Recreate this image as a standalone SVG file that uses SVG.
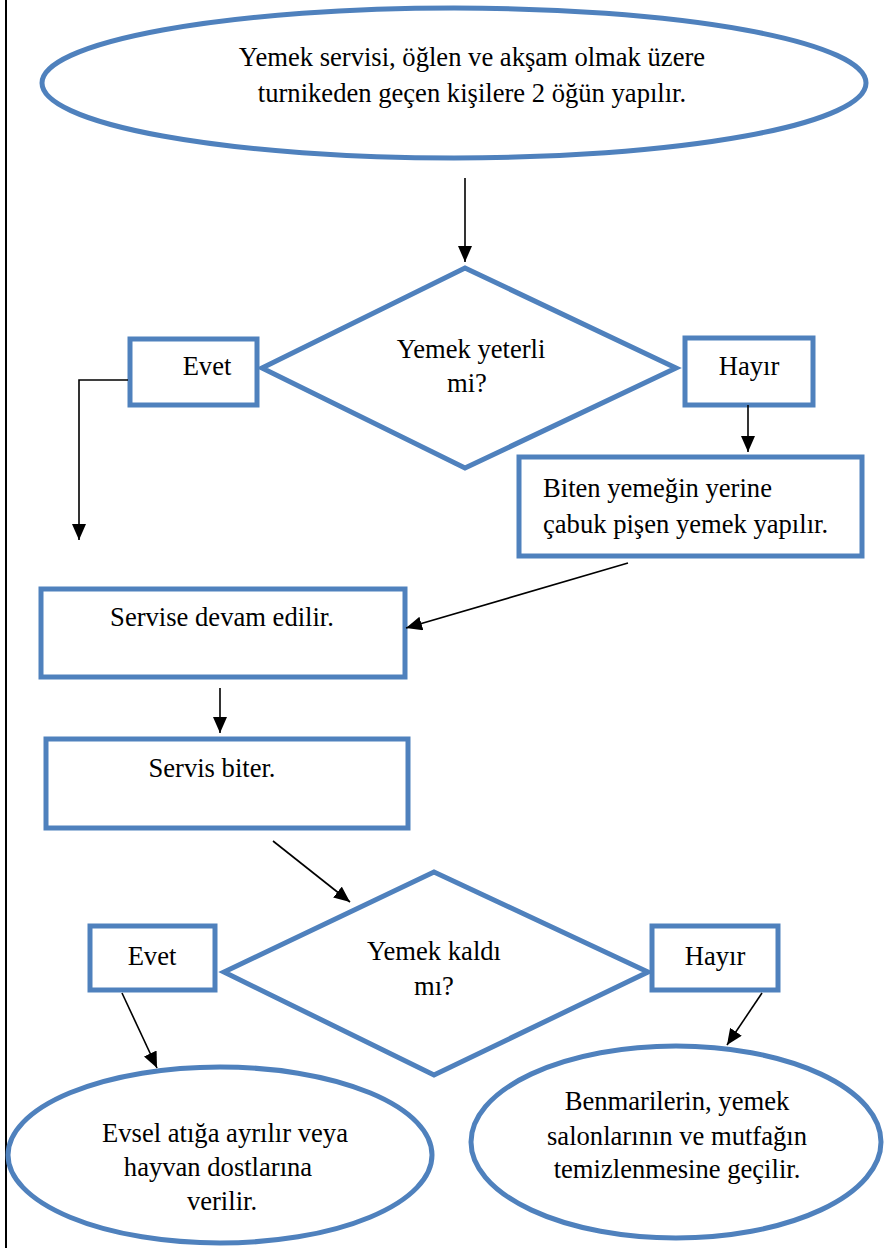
<svg xmlns="http://www.w3.org/2000/svg" width="884" height="1248" viewBox="0 0 884 1248">
<defs>
<style>
.s{fill:#fff;stroke:#4F81BD;stroke-width:5}
text{font-family:'Liberation Serif','Times New Roman','DejaVu Serif',serif;font-size:26.6px;fill:#000;text-anchor:middle}
text.l{text-anchor:start}
.c{stroke:#000;stroke-width:1.6;fill:none}
</style>
<marker id="b" viewBox="0 0 16 14" refX="16" refY="7" markerWidth="16" markerHeight="14" markerUnits="userSpaceOnUse" orient="auto">
<path d="M0,0 L16,7 L0,14 z" fill="#000"/>
</marker>
</defs>
<rect width="884" height="1248" fill="#fff"/>
<line x1="6" y1="0" x2="6" y2="1248" stroke="#000" stroke-width="2"/>

<g id="start">
<ellipse class="s" cx="454" cy="83" rx="412" ry="75"/>
<text x="472" y="66">Yemek servisi, öğlen ve akşam olmak üzere</text>
<text x="472" y="102">turnikeden geçen kişilere 2 öğün yapılır.</text>
</g>

<g id="dec1">
<polygon class="s" points="465,268 676,368 465,468 262,368"/>
<text x="471" y="358">Yemek yeterli</text>
<text x="467" y="392">mi?</text>
</g>
<g id="evet1">
<rect class="s" x="130" y="339" width="127" height="66"/>
<text x="207" y="375">Evet</text>
</g>
<g id="hayir1">
<rect class="s" x="685" y="338" width="128" height="67"/>
<text x="749" y="375">Hayır</text>
</g>
<g id="biten">
<rect class="s" x="519" y="457" width="343" height="99"/>
<text class="l" x="543" y="497">Biten yemeğin yerine</text>
<text class="l" x="543" y="533">çabuk pişen yemek yapılır.</text>
</g>
<g id="servise">
<rect class="s" x="41" y="589" width="364" height="88"/>
<text x="222" y="626">Servise devam edilir.</text>
</g>
<g id="biter">
<rect class="s" x="46" y="739" width="362" height="89"/>
<text x="212" y="777">Servis biter.</text>
</g>
<g id="dec2">
<polygon class="s" points="434,872 648,972 434,1075 224,972"/>
<text x="434" y="960">Yemek kaldı</text>
<text x="434" y="995">mı?</text>
</g>
<g id="evet2">
<rect class="s" x="90" y="926" width="125" height="64"/>
<text x="152" y="965">Evet</text>
</g>
<g id="hayir2">
<rect class="s" x="652" y="926" width="126" height="64"/>
<text x="715" y="965">Hayır</text>
</g>
<g id="evsel">
<ellipse class="s" cx="220" cy="1155" rx="212" ry="88"/>
<text x="225" y="1142">Evsel atığa ayrılır veya</text>
<text x="218" y="1176">hayvan dostlarına</text>
<text x="222" y="1210">verilir.</text>
</g>
<g id="benmari">
<ellipse class="s" cx="676" cy="1142" rx="205" ry="96"/>
<text x="677" y="1110">Benmarilerin, yemek</text>
<text x="677" y="1145">salonlarının ve mutfağın</text>
<text x="677" y="1178">temizlenmesine geçilir.</text>
</g>

<g id="connectors">
<line class="c" x1="465" y1="178" x2="465" y2="262" marker-end="url(#b)"/>
<polyline class="c" points="128,380 79,380 79,540" marker-end="url(#b)"/>
<line class="c" x1="748" y1="405" x2="748" y2="452" marker-end="url(#b)"/>
<line class="c" x1="628" y1="563" x2="406" y2="628" marker-end="url(#b)"/>
<line class="c" x1="220" y1="688" x2="220" y2="733" marker-end="url(#b)"/>
<line class="c" x1="273" y1="841" x2="350" y2="902" marker-end="url(#b)"/>
<line class="c" x1="122" y1="993" x2="157" y2="1068" marker-end="url(#b)"/>
<line class="c" x1="762" y1="993" x2="727" y2="1045" marker-end="url(#b)"/>
</g>
</svg>
